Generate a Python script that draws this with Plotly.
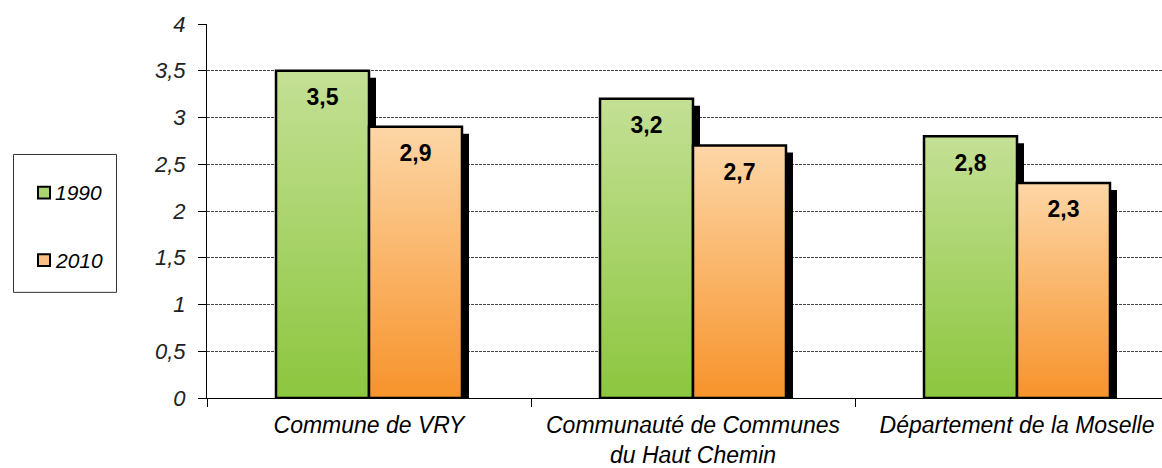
import plotly.graph_objects as go

categories = ["Commune de VRY", "Communauté de Communes<br>du Haut Chemin", "Département de la Moselle"]
series_names = ["1990", "2010"]
values_1990 = [3.5, 3.2, 2.8]
values_2010 = [2.9, 2.7, 2.3]
value_labels_1990 = ["3,5", "3,2", "2,8"]
value_labels_2010 = ["2,9", "2,7", "2,3"]
y_tickvals = [0, 0.5, 1, 1.5, 2, 2.5, 3, 3.5, 4]
y_ticktext = ["0", "0,5", "1", "1,5", "2", "2,5", "3", "3,5", "4"]

W, H = 1162, 468
ML, MR, MT, MB = 207, 0, 24, 67
PW, PH = W - ML - MR, H - MT - MB
CAT_PX = 324.0
x_range = [-0.5, -0.5 + PW / CAT_PX]
y_range = [0, 4]
px_x = 1.0 / CAT_PX
px_y = (y_range[1] - y_range[0]) / PH

def paper_x(p):
    return (p - ML) / PW

def paper_y(p):
    return (H - MB - p) / PH

BAR_W = 0.287
SH_DX = 7 * px_x
SH_DY = 7 * px_y
LABEL_DY = 29 * px_y

styles = [
    dict(name="1990", vals=values_1990, labels=value_labels_1990, side=-1,
         top="#c4e095", bottom="#8cc63e", legend="#a9d46f"),
    dict(name="2010", vals=values_2010, labels=value_labels_2010, side=1,
         top="#fdd6a6", bottom="#f7932b", legend="#fbbf83"),
]

fig = go.Figure()

for i in range(len(categories)):
    for s in styles:
        v = s["vals"][i]
        if s["side"] < 0:
            l, r = i - BAR_W, i
        else:
            l, r = i, i + BAR_W
        # shadow
        fig.add_trace(go.Scatter(
            x=[l + SH_DX, l + SH_DX, r + SH_DX, r + SH_DX, l + SH_DX],
            y=[0, v - SH_DY, v - SH_DY, 0, 0],
            mode="lines", fill="toself", fillcolor="black",
            line=dict(color="black", width=0), showlegend=False, hoverinfo="skip"))
        # bar with gradient
        fig.add_trace(go.Scatter(
            x=[l, l, r, r, l], y=[0, v, v, 0, 0],
            mode="lines", fill="toself",
            fillgradient=dict(type="vertical",
                              colorscale=[[0, s["bottom"]], [1, s["top"]]]),
            line=dict(color="black", width=2.5), showlegend=False,
            name=s["name"], hoverinfo="skip"))

for s in styles:
    xs = [i + s["side"] * BAR_W / 2 for i in range(len(categories))]
    fig.add_trace(go.Scatter(
        x=xs, y=[v - LABEL_DY for v in s["vals"]], mode="text",
        text=s["labels"], textposition="middle center",
        textfont=dict(family="Liberation Sans, Arial, sans-serif", size=23,
                      color="black", weight="bold"),
        showlegend=False, hoverinfo="skip"))

shapes = []
annotations = []
# legend box
shapes.append(dict(type="rect", xref="paper", yref="paper",
                   x0=paper_x(13.5), x1=paper_x(116.5), y0=paper_y(294.5), y1=paper_y(155.5),
                   line=dict(color="#333333", width=1), fillcolor="white", layer="above"))
for s, cy in zip(styles, [194, 262]):
    shapes.append(dict(type="rect", xref="paper", yref="paper",
                       x0=paper_x(38), x1=paper_x(50), y0=paper_y(cy + 6), y1=paper_y(cy - 6),
                       line=dict(color="black", width=2), fillcolor=s["legend"], layer="above"))
    annotations.append(dict(xref="paper", yref="paper", x=paper_x(53), y=paper_y(cy),
                            xanchor="left", yanchor="middle", text=s["name"], showarrow=False,
                            font=dict(family="Liberation Sans, Arial, sans-serif", size=21,
                                      color="black", style="italic")))

fig.update_layout(
    width=W, height=H,
    margin=dict(l=ML, r=MR, t=MT, b=MB, pad=0),
    paper_bgcolor="white", plot_bgcolor="white",
    showlegend=False,
    shapes=shapes, annotations=annotations,
    xaxis=dict(range=x_range, tickmode="array", tickvals=list(range(len(categories))),
               ticktext=categories, ticks="", showgrid=False, zeroline=False,
               showline=True, linecolor="black", linewidth=1,
               tickfont=dict(family="Liberation Sans, Arial, sans-serif", size=23,
                             color="black", style="italic"),
               ticklabelstandoff=6,
               minor=dict(tickmode="linear", tick0=-0.5, dtick=1, ticks="outside",
                          ticklen=8, tickcolor="black", tickwidth=1, showgrid=False)),
    yaxis=dict(range=y_range, tickmode="array", tickvals=y_tickvals, ticktext=y_ticktext,
               ticks="outside", ticklen=8, tickcolor="black", tickwidth=1,
               showgrid=True, gridcolor="#444444", gridwidth=1, griddash="3px,1px",
               zeroline=False, showline=True, linecolor="black", linewidth=1,
               tickfont=dict(family="Liberation Sans, Arial, sans-serif", size=22,
                             color="#222222", style="italic"),
               ticklabelstandoff=8),
)

fig.write_html("out.html", config={"displayModeBar": False},
               post_script="document.body.style.margin='0px';")
